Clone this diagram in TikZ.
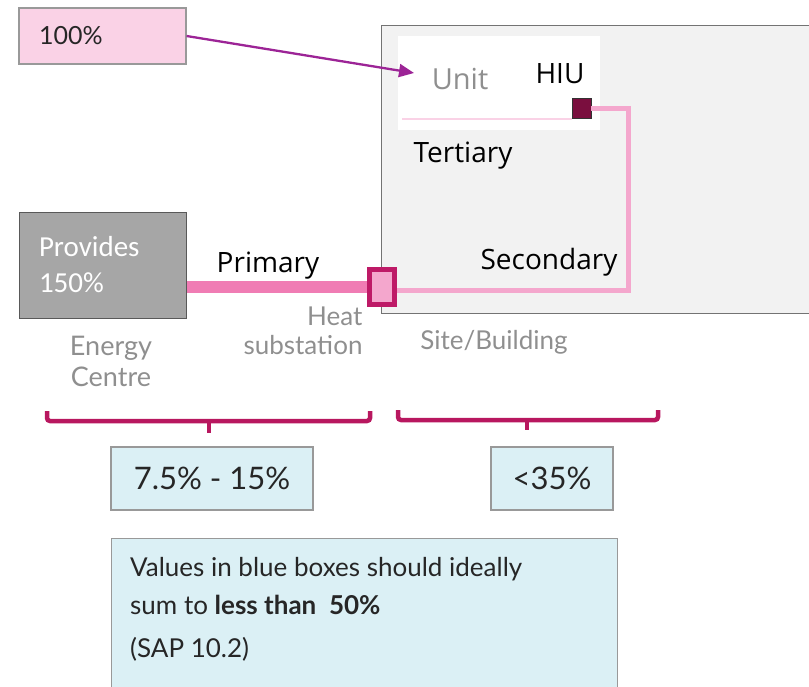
\documentclass[tikz,border=0pt]{standalone}
\usepackage{fontspec}
\setmainfont{Lato}
\newfontfamily\uifont{Open Sans}
\newfontfamily\calfont{Carlito}
\usetikzlibrary{arrows.meta}

\definecolor{pinkfill}{HTML}{FAD2E6}
\definecolor{arrowpurple}{HTML}{9C2496}
\definecolor{sitegray}{HTML}{F2F2F2}
\definecolor{ecgray}{HTML}{A6A6A6}
\definecolor{primpink}{HTML}{F07CB4}
\definecolor{secpink}{HTML}{F4A7CD}
\definecolor{tertpink}{HTML}{FAD2E6}
\definecolor{subborder}{HTML}{BE1A67}
\definecolor{hiumaroon}{HTML}{7A0E3E}
\definecolor{bracepink}{HTML}{B8175F}
\definecolor{bluefill}{HTML}{DBF0F5}
\definecolor{labelgray}{HTML}{8F8F8F}
\definecolor{textdark}{HTML}{262626}

\begin{document}
\begin{tikzpicture}[
    x=1pt, y=-1pt,
    pctbox/.style={
        draw=gray!80,
        fill=pinkfill,
        line width=1.2pt,
        minimum width=167pt,
        minimum height=56pt,
        text width=127pt,
        inner xsep=20pt,
        align=left,
        text=textdark,
        font=\fontsize{25}{30}\selectfont
    },
    sitebox/.style={
        draw=gray!90!black,
        fill=sitegray,
        line width=1pt,
        minimum width=449pt,
        minimum height=288pt
    },
    ecbox/.style={
        draw=gray!70!black,
        fill=ecgray,
        line width=1pt,
        minimum width=167pt,
        minimum height=106pt,
        text width=127pt,
        inner xsep=20pt,
        align=left,
        text=white,
        font=\calfont\fontsize{29}{36}\selectfont
    },
    bluebox/.style={
        draw=gray!80,
        fill=bluefill,
        line width=1.2pt,
        minimum height=63pt,
        text=textdark,
        font=\fontsize{31}{36}\selectfont
    },
    pipelabel/.style={
        font=\uifont\fontsize{28}{32}\selectfont,
        text=black
    },
    greylabel/.style={
        font=\fontsize{26}{30}\selectfont,
        text=labelgray
    },
    brace/.style={
        draw=bracepink,
        line width=4.5pt,
        rounded corners=3pt
    }
]

\useasboundingbox (0,0) rectangle (809,686);
\clip (0,0) rectangle (809,686);

% Site / building
\node[sitebox] (site) at (605.5,169) {};
\node[fill=white, minimum width=202pt, minimum height=94pt] (unitbox) at (499,83) {};
\node[pipelabel, text=labelgray, font=\uifont\fontsize{29}{32}\selectfont] (unit) at (460,79) {Unit};
\node[pipelabel] (hiu) at (560,74) {HIU};
\node[draw=gray!40!black, fill=hiumaroon, line width=0.6pt,
      minimum width=19pt, minimum height=20pt, inner sep=0pt] (hiubox) at (581.5,108) {};
\node[pipelabel] (tertiary) at (463,156) {Tertiary};
\node[pipelabel] (secondary) at (549,262) {Secondary};
\node[greylabel] (building) at (494,342) {Site/Building};

% Energy centre
\node[ecbox] (ec) at (102.5,265) {Provides\\150\%};
\node[greylabel, align=center, font=\fontsize{27}{31}\selectfont] (eclabel) at (111,361)
    {Energy\\Centre};

% Heat substation
\node[draw=subborder, fill=secpink, line width=5pt,
      minimum width=25pt, minimum height=35pt, inner sep=0pt] (sub) at (382,287) {};
\node[greylabel, align=right, anchor=north east, font=\fontsize{26}{29}\selectfont]
    (sublabel) at (366,303) {Heat\\substation};
\node[pipelabel] (primary) at (268,266) {Primary};

% Pipes
\coordinate (tertstart) at (402,119);
\coordinate (seccol) at (628,200);
\draw[primpink, line width=12pt] (ec.east |- sub.center) -- (sub.west);
\draw[secpink, line width=5pt] ([yshift=-3pt]sub.east) -| (seccol) |- (hiubox.east);
\draw[tertpink, line width=2.5pt] (tertstart) -- (tertstart -| hiubox.west);

% 100% to unit
\node[pctbox] (pct) at (102.5,36) {100\%};
\coordinate (unitin) at (414,73);
\draw[arrowpurple, line width=2.3pt, -{Triangle[length=15pt,width=13pt]}]
    (pct.east) -- (unitin);

% Braces
\draw[brace] (47,411) -- (47,421) -- (370,421) -- (370,411);
\draw[brace, rounded corners=0pt] (209,421) -- (209,433);
\draw[brace] (398,410) -- (398,420) -- (658,420) -- (658,410);
\draw[brace, rounded corners=0pt] (527,420) -- (527,430);

% Blue boxes
\node[bluebox, minimum width=202pt] (distloss) at (212,478.5) {7.5\% - 15\%};
\node[bluebox, minimum width=122pt] (siteloss) at (552,478.5) {<35\%};

% Note
\node[draw=gray!80, fill=bluefill, line width=1.2pt, anchor=north west,
      minimum width=506pt, minimum height=170pt] (note) at (111,538) {};
\node[anchor=north west, align=left, inner sep=0pt, text=textdark,
      font=\fontsize{26}{38}\selectfont] (notetxt) at (130,557)
    {Values in blue boxes should ideally\\
     sum to \textbf{less than\ \ 50\%}\\[5pt]
     (SAP 10.2)};

\end{tikzpicture}
\end{document}
